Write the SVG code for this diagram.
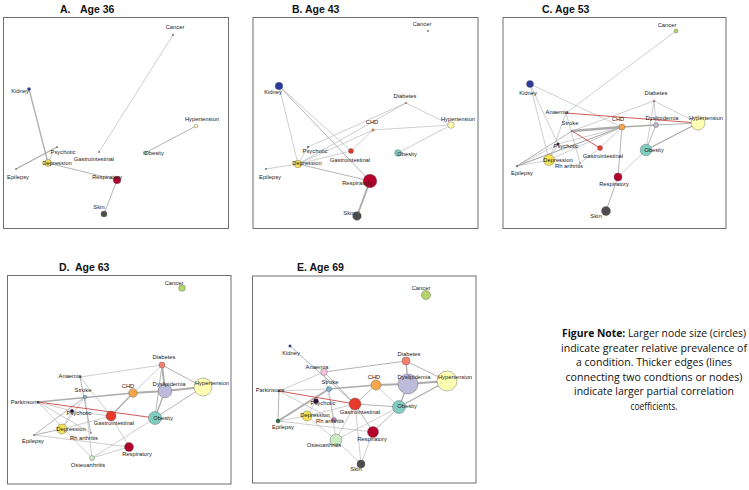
<svg xmlns="http://www.w3.org/2000/svg" width="749" height="490" viewBox="0 0 749 490">
<style>
.bg{fill:#fff}
.frame{fill:none;stroke:#6e6e6e;stroke-width:1}
.title{font-family:"Liberation Sans",Arial,sans-serif;font-weight:bold;font-size:10.5px;fill:#111}
.l{font-family:"Liberation Sans",Arial,sans-serif;font-size:5.8px;fill:#222;text-anchor:middle}
.note{font-family:"Open Sans","Liberation Sans",sans-serif;font-size:10.5px;fill:#111;text-anchor:middle}
.n{stroke:#555;stroke-width:0.4}
.e{stroke:#acacac;fill:none;stroke-linecap:round}
.w1{stroke-width:0.6}.w2{stroke-width:0.9}.w3{stroke-width:1.3}.w4{stroke-width:1.9}.w5{stroke-width:2.6}
.r{stroke:#cc4848}
.kid{fill:#2b3a9b}.can{fill:#b5d56a}.hyp{fill:#ffffb3}.obe{fill:#80cdc1}.dep{fill:#f5e356}
.res{fill:#b2002a}.ski{fill:#4d4d4d}.gas{fill:#e8392a}.chd{fill:#f9a54a}.dys{fill:#bebada}
.dia{fill:#f77f6a}.ana{fill:#f7c4da}.str{fill:#80b1d3}.psy{fill:#2d0a3a}.rha{fill:#c07fb0}
.epi{fill:#1b6b3a}.ost{fill:#ccebc5}.par{fill:#222}.tiny{fill:#777}
</style>
<rect class="bg" x="0" y="0" width="749" height="490"/>

<g id="titles">
<text class="title" x="60" y="13">A.</text><text class="title" x="80" y="13">Age 36</text>
<text class="title" x="292" y="13">B. Age 43</text>
<text class="title" x="542" y="13">C. Age 53</text>
<text class="title" x="59" y="271">D.</text><text class="title" x="75" y="271">Age 63</text>
<text class="title" x="297" y="271">E. Age 69</text>
</g>

<g id="frames">
<rect class="frame" x="3.5" y="17.5" width="225" height="211"/>
<rect class="frame" x="253" y="17.5" width="225" height="211"/>
<rect class="frame" x="503" y="17.5" width="223" height="211"/>
<rect class="frame" x="7.5" y="275.5" width="223.5" height="208.5"/>
<rect class="frame" x="252.5" y="276" width="223.5" height="207"/>
</g>

<g id="connectors">
<!-- A -->
<line class="e w3" x1="29" y1="89" x2="48" y2="163"/>
<line class="e w1" x1="173" y1="35" x2="99" y2="152"/>
<line class="e w2" x1="196" y1="126" x2="145" y2="153"/>
<line class="e w2" x1="48" y1="163" x2="117" y2="180"/>
<line class="e w2" x1="117" y1="180" x2="104" y2="214"/>
<line class="e w3" x1="16" y1="169" x2="57" y2="147"/>
<line class="e w1" x1="53" y1="152" x2="48" y2="163"/>
<!-- B -->
<line class="e w1" x1="279" y1="86" x2="298" y2="164"/>
<line class="e w1" x1="279" y1="86" x2="351" y2="151"/>
<line class="e w2" x1="279" y1="86" x2="370" y2="181"/>
<line class="e w1" x1="406" y1="103" x2="451" y2="125"/>
<line class="e w1" x1="406" y1="103" x2="308" y2="147"/>
<line class="e w1" x1="406" y1="103" x2="298" y2="164"/>
<line class="e w1" x1="373" y1="130" x2="298" y2="164"/>
<line class="e w1" x1="373" y1="130" x2="451" y2="125"/>
<line class="e w1" x1="373" y1="130" x2="351" y2="151"/>
<line class="e w1" x1="451" y1="125" x2="398" y2="153"/>
<line class="e w1" x1="298" y1="164" x2="351" y2="151"/>
<line class="e w2" x1="298" y1="164" x2="370" y2="181"/>
<line class="e w1" x1="266" y1="169" x2="298" y2="164"/>
<line class="e w4" x1="370" y1="181" x2="357" y2="216"/>
<line class="e w1" x1="308" y1="147" x2="298" y2="164"/>
<!-- C -->
<line class="e w1" x1="676" y1="31" x2="566" y2="113"/>
<line class="e w1" x1="530" y1="84" x2="549" y2="160"/>
<line class="e w1" x1="530" y1="84" x2="622" y2="127"/>
<line class="e w1" x1="530" y1="84" x2="558" y2="144"/>
<line class="e w1" x1="566" y1="113" x2="549" y2="160"/>
<line class="e w1" x1="566" y1="113" x2="580" y2="163"/>
<line class="e w1" x1="654" y1="101" x2="572" y2="131"/>
<line class="e w1" x1="654" y1="101" x2="656" y2="125"/>
<line class="e w1" x1="654" y1="101" x2="646" y2="150"/>
<line class="e w1" x1="654" y1="101" x2="698" y2="123"/>
<line class="e w5" x1="572" y1="131" x2="622" y2="127"/>
<line class="e w3" x1="517" y1="166" x2="622" y2="127"/>
<line class="e w2" x1="517" y1="166" x2="572" y2="131"/>
<line class="e w1" x1="517" y1="166" x2="549" y2="160"/>
<line class="e w1" x1="517" y1="166" x2="558" y2="144"/>
<line class="e w3" x1="622" y1="127" x2="656" y2="125"/>
<line class="e w2" x1="656" y1="125" x2="698" y2="123"/>
<line class="e w2" x1="656" y1="125" x2="646" y2="150"/>
<line class="e w3" x1="646" y1="150" x2="698" y2="123"/>
<line class="e w2" x1="622" y1="127" x2="618" y2="177"/>
<line class="e w1" x1="622" y1="127" x2="549" y2="160"/>
<line class="e w1" x1="622" y1="127" x2="558" y2="144"/>
<line class="e w1" x1="622" y1="127" x2="600" y2="148"/>
<line class="e w1" x1="646" y1="150" x2="618" y2="177"/>
<line class="e w2" x1="618" y1="177" x2="606" y2="211"/>
<line class="e w1" x1="600" y1="148" x2="580" y2="163"/>
<line class="e w1" x1="558" y1="144" x2="549" y2="160"/>
<line class="e w2 r" x1="566" y1="113" x2="698" y2="123"/>
<line class="e w2 r" x1="572" y1="131" x2="600" y2="148"/>
<!-- D -->
<line class="e w3" x1="38" y1="402" x2="133" y2="393"/>
<line class="e w4" x1="133" y1="393" x2="165" y2="391"/>
<line class="e w4" x1="165" y1="391" x2="203" y2="387"/>
<line class="e w1" x1="80" y1="377" x2="162" y2="365"/>
<line class="e w1" x1="80" y1="377" x2="111" y2="416"/>
<line class="e w2" x1="80" y1="377" x2="91" y2="433"/>
<line class="e w4" x1="162" y1="365" x2="165" y2="391"/>
<line class="e w2" x1="162" y1="365" x2="203" y2="387"/>
<line class="e w2" x1="162" y1="365" x2="155" y2="418"/>
<line class="e w1" x1="162" y1="365" x2="133" y2="393"/>
<line class="e w3" x1="165" y1="391" x2="155" y2="418"/>
<line class="e w2" x1="203" y1="387" x2="155" y2="418"/>
<line class="e w3" x1="133" y1="393" x2="111" y2="416"/>
<line class="e w1" x1="111" y1="416" x2="62" y2="429"/>
<line class="e w1" x1="111" y1="416" x2="129" y2="447"/>
<line class="e w1" x1="111" y1="416" x2="72" y2="411"/>
<line class="e w2" x1="85" y1="397" x2="34" y2="435"/>
<line class="e w1" x1="85" y1="397" x2="92" y2="458"/>
<line class="e w1" x1="85" y1="397" x2="62" y2="429"/>
<line class="e w1" x1="38" y1="402" x2="72" y2="411"/>
<line class="e w1" x1="38" y1="402" x2="91" y2="433"/>
<line class="e w1" x1="38" y1="402" x2="92" y2="458"/>
<line class="e w1" x1="72" y1="411" x2="62" y2="429"/>
<line class="e w1" x1="34" y1="435" x2="129" y2="447"/>
<line class="e w1" x1="92" y1="458" x2="155" y2="418"/>
<line class="e w1" x1="92" y1="458" x2="129" y2="447"/>
<line class="e w2" x1="62" y1="429" x2="34" y2="435"/>
<line class="e w2 r" x1="38" y1="402" x2="155" y2="418"/>
<!-- E -->
<line class="e w2" x1="290" y1="346" x2="355" y2="404"/>
<line class="e w2" x1="324" y1="372" x2="406" y2="361"/>
<line class="e w3" x1="406" y1="361" x2="408" y2="384"/>
<line class="e w2" x1="406" y1="361" x2="447" y2="381"/>
<line class="e w4" x1="408" y1="384" x2="447" y2="381"/>
<line class="e w3" x1="447" y1="381" x2="399" y2="407"/>
<line class="e w3" x1="408" y1="384" x2="399" y2="407"/>
<line class="e w4" x1="376" y1="385" x2="408" y2="384"/>
<line class="e w3" x1="329" y1="389" x2="376" y2="385"/>
<line class="e w2" x1="279" y1="391" x2="278" y2="421"/>
<line class="e w1" x1="279" y1="391" x2="324" y2="372"/>
<line class="e w1" x1="279" y1="391" x2="329" y2="389"/>
<line class="e w1" x1="279" y1="391" x2="334" y2="420"/>
<line class="e w4" x1="278" y1="421" x2="329" y2="389"/>
<line class="e w1" x1="278" y1="421" x2="307" y2="416"/>
<line class="e w1" x1="278" y1="421" x2="373" y2="432"/>
<line class="e w1" x1="316" y1="401" x2="307" y2="416"/>
<line class="e w2" x1="355" y1="404" x2="399" y2="407"/>
<line class="e w2" x1="355" y1="404" x2="376" y2="385"/>
<line class="e w2" x1="355" y1="404" x2="373" y2="432"/>
<line class="e w2" x1="399" y1="407" x2="373" y2="432"/>
<line class="e w1" x1="373" y1="432" x2="361" y2="464"/>
<line class="e w1" x1="336" y1="440" x2="361" y2="464"/>
<line class="e w1" x1="336" y1="440" x2="355" y2="404"/>
<line class="e w1" x1="336" y1="440" x2="329" y2="389"/>
<line class="e w1" x1="336" y1="440" x2="307" y2="416"/>
<line class="e w2" x1="324" y1="372" x2="355" y2="404"/>
<line class="e w1" x1="324" y1="372" x2="334" y2="420"/>
<line class="e w1" x1="355" y1="404" x2="361" y2="464"/>
<line class="e w1" x1="307" y1="416" x2="355" y2="404"/>
<line class="e w1" x1="376" y1="385" x2="399" y2="407"/>
<line class="e w1" x1="336" y1="440" x2="399" y2="407"/>
<line class="e w2 r" x1="279" y1="391" x2="355" y2="404"/>
</g>

<!-- Panel A nodes -->
<g id="a-cancer"><circle class="n tiny" cx="173" cy="35" r="0.8"/><text class="l" x="175" y="29">Cancer</text></g>
<g id="a-kidney"><circle class="n kid" cx="29" cy="89" r="1.6"/><text class="l" x="20" y="93">Kidney</text></g>
<g id="a-hypertension"><circle class="n hyp" cx="196" cy="126" r="1.8"/><text class="l" x="202" y="121">Hypertension</text></g>
<g id="a-obesity"><circle class="n obe" cx="145" cy="153" r="1.8"/><text class="l" x="154" y="155">Obesity</text></g>
<g id="a-gastro"><circle class="n gas" cx="99" cy="152" r="0.7"/><text class="l" x="94" y="161">Gastrointestinal</text></g>
<g id="a-psychotic"><circle class="n psy" cx="57" cy="147" r="0.5"/><text class="l" x="63" y="154">Psychotic</text></g>
<g id="a-depression"><circle class="n dep" cx="48" cy="163" r="3.5"/><text class="l" x="57" y="165">Depression</text></g>
<g id="a-epilepsy"><circle class="n epi" cx="16" cy="169" r="0.5"/><text class="l" x="18" y="179">Epilepsy</text></g>
<g id="a-respiratory"><circle class="n res" cx="117" cy="180" r="3.8"/><text class="l" x="107" y="179">Respiratory</text></g>
<g id="a-skin"><circle class="n ski" cx="104" cy="214" r="3"/><text class="l" x="99" y="209">Skin</text></g>

<!-- Panel B nodes -->
<g id="b-cancer"><circle class="n tiny" cx="428" cy="31" r="0.8"/><text class="l" x="422" y="26">Cancer</text></g>
<g id="b-kidney"><circle class="n kid" cx="279" cy="86" r="3.8"/><text class="l" x="273" y="94">Kidney</text></g>
<g id="b-diabetes"><circle class="n dia" cx="406" cy="103" r="0.8"/><text class="l" x="405" y="98">Diabetes</text></g>
<g id="b-chd"><circle class="n chd" cx="373" cy="130" r="1.3"/><text class="l" x="372" y="124">CHD</text></g>
<g id="b-hypertension"><circle class="n hyp" cx="451" cy="125" r="3.3"/><text class="l" x="458" y="121">Hypertension</text></g>
<g id="b-psychotic"><circle class="n psy" cx="308" cy="147" r="0.8"/><text class="l" x="315" y="153">Psychotic</text></g>
<g id="b-gastro"><circle class="n gas" cx="351" cy="151" r="2.5"/><text class="l" x="350" y="162">Gastrointestinal</text></g>
<g id="b-obesity"><circle class="n obe" cx="398" cy="153" r="3.3"/><text class="l" x="407" y="156">Obesity</text></g>
<g id="b-depression"><circle class="n dep" cx="298" cy="164" r="3.8"/><text class="l" x="307" y="165">Depression</text></g>
<g id="b-epilepsy"><circle class="n epi" cx="266" cy="169" r="0.7"/><text class="l" x="270" y="179">Epilepsy</text></g>
<g id="b-respiratory"><circle class="n res" cx="370" cy="181" r="6.8"/><text class="l" x="357" y="185">Respiratory</text></g>
<g id="b-skin"><circle class="n ski" cx="357" cy="216" r="4.3"/><text class="l" x="349" y="215">Skin</text></g>

<!-- Panel C nodes -->
<g id="c-cancer"><circle class="n can" cx="676" cy="31" r="2"/><text class="l" x="667" y="27">Cancer</text></g>
<g id="c-kidney"><circle class="n kid" cx="530" cy="84" r="3.5"/><text class="l" x="528" y="95">Kidney</text></g>
<g id="c-diabetes"><circle class="n dia" cx="654" cy="101" r="0.9"/><text class="l" x="656" y="95">Diabetes</text></g>
<g id="c-anaemia"><circle class="n ana" cx="566" cy="113" r="0.8"/><text class="l" x="557" y="114">Anaemia</text></g>
<g id="c-stroke"><circle class="n str" cx="572" cy="131" r="0.8"/><text class="l" x="570" y="125">Stroke</text></g>
<g id="c-chd"><circle class="n chd" cx="622" cy="127" r="3"/><text class="l" x="618" y="121">CHD</text></g>
<g id="c-dyslipidemia"><circle class="n dys" cx="656" cy="125" r="2.5"/><text class="l" x="662" y="120">Dyslipidemia</text></g>
<g id="c-hypertension"><circle class="n hyp" cx="698" cy="123" r="7"/><text class="l" x="706" y="120">Hypertension</text></g>
<g id="c-psychotic"><circle class="n psy" cx="558" cy="144" r="1.3"/><text class="l" x="566" y="148">Psychotic</text></g>
<g id="c-gastro"><circle class="n gas" cx="600" cy="148" r="2.5"/><text class="l" x="603" y="158">Gastrointestinal</text></g>
<g id="c-obesity"><circle class="n obe" cx="646" cy="150" r="5.8"/><text class="l" x="654" y="152">Obesity</text></g>
<g id="c-depression"><circle class="n dep" cx="549" cy="160" r="5.5"/><text class="l" x="558" y="162">Depression</text></g>
<g id="c-rharthritis"><circle class="n rha" cx="580" cy="163" r="0.6"/><text class="l" x="569" y="168">Rh arthritis</text></g>
<g id="c-epilepsy"><circle class="n epi" cx="517" cy="166" r="0.8"/><text class="l" x="522" y="175">Epilepsy</text></g>
<g id="c-respiratory"><circle class="n res" cx="618" cy="177" r="4"/><text class="l" x="614" y="186">Respiratory</text></g>
<g id="c-skin"><circle class="n ski" cx="606" cy="211" r="4.5"/><text class="l" x="596" y="218">Skin</text></g>

<!-- Panel D nodes -->
<g id="d-cancer"><circle class="n can" cx="182" cy="288" r="3.3"/><text class="l" x="174" y="285">Cancer</text></g>
<g id="d-diabetes"><circle class="n dia" cx="162" cy="365" r="3"/><text class="l" x="164" y="359">Diabetes</text></g>
<g id="d-anaemia"><circle class="n ana" cx="80" cy="377" r="0.9"/><text class="l" x="70" y="378">Anaemia</text></g>
<g id="d-chd"><circle class="n chd" cx="133" cy="393" r="4.3"/><text class="l" x="128" y="388">CHD</text></g>
<g id="d-dyslipidemia"><circle class="n dys" cx="165" cy="391" r="6.8"/><text class="l" x="169" y="386">Dyslipidemia</text></g>
<g id="d-hypertension"><circle class="n hyp" cx="203" cy="387" r="9"/><text class="l" x="212" y="385">Hypertension</text></g>
<g id="d-stroke"><circle class="n str" cx="85" cy="397" r="1.8"/><text class="l" x="83" y="392">Stroke</text></g>
<g id="d-parkinsons"><circle class="n par" cx="38" cy="402" r="0.8"/><text class="l" x="25" y="404">Parkinsons</text></g>
<g id="d-psychotic"><circle class="n psy" cx="72" cy="411" r="1.8"/><text class="l" x="79" y="415">Psychotic</text></g>
<g id="d-gastro"><circle class="n gas" cx="111" cy="416" r="5"/><text class="l" x="114" y="425">Gastrointestinal</text></g>
<g id="d-obesity"><circle class="n obe" cx="155" cy="418" r="6.5"/><text class="l" x="163" y="420">Obesity</text></g>
<g id="d-depression"><circle class="n dep" cx="62" cy="429" r="5"/><text class="l" x="71" y="431">Depression</text></g>
<g id="d-rharthritis"><circle class="n rha" cx="91" cy="433" r="0.6"/><text class="l" x="84" y="440">Rh arthritis</text></g>
<g id="d-epilepsy"><circle class="n epi" cx="34" cy="435" r="0.6"/><text class="l" x="33" y="443">Epilepsy</text></g>
<g id="d-respiratory"><circle class="n res" cx="129" cy="447" r="4.5"/><text class="l" x="137" y="456">Respiratory</text></g>
<g id="d-osteoarthritis"><circle class="n ost" cx="92" cy="458" r="2.5"/><text class="l" x="88" y="467">Osteoarthritis</text></g>

<!-- Panel E nodes -->
<g id="e-cancer"><circle class="n can" cx="426" cy="295" r="4.5"/><text class="l" x="421" y="290">Cancer</text></g>
<g id="e-kidney"><circle class="n kid" cx="290" cy="346" r="1.3"/><text class="l" x="291" y="355">Kidney</text></g>
<g id="e-diabetes"><circle class="n dia" cx="406" cy="361" r="4"/><text class="l" x="409" y="356">Diabetes</text></g>
<g id="e-anaemia"><circle class="n ana" cx="324" cy="372" r="3.3"/><text class="l" x="317" y="369">Anaemia</text></g>
<g id="e-chd"><circle class="n chd" cx="376" cy="385" r="5"/><text class="l" x="374" y="379">CHD</text></g>
<g id="e-dyslipidemia"><circle class="n dys" cx="408" cy="384" r="10"/><text class="l" x="414" y="379">Dyslipidemia</text></g>
<g id="e-hypertension"><circle class="n hyp" cx="447" cy="381" r="10"/><text class="l" x="455" y="379">Hypertension</text></g>
<g id="e-stroke"><circle class="n str" cx="329" cy="389" r="2.5"/><text class="l" x="330" y="384">Stroke</text></g>
<g id="e-parkinsons"><circle class="n par" cx="279" cy="391" r="1"/><text class="l" x="270" y="392">Parkinsons</text></g>
<g id="e-psychotic"><circle class="n psy" cx="316" cy="401" r="2.5"/><text class="l" x="323" y="405">Psychotic</text></g>
<g id="e-gastro"><circle class="n gas" cx="355" cy="404" r="6"/><text class="l" x="360" y="414">Gastrointestinal</text></g>
<g id="e-obesity"><circle class="n obe" cx="399" cy="407" r="6.5"/><text class="l" x="407" y="408">Obesity</text></g>
<g id="e-depression"><circle class="n dep" cx="307" cy="416" r="5"/><text class="l" x="315" y="417">Depression</text></g>
<g id="e-rharthritis"><circle class="n rha" cx="334" cy="420" r="2.5"/><text class="l" x="330" y="423">Rh arthritis</text></g>
<g id="e-epilepsy"><circle class="n epi" cx="278" cy="421" r="2"/><text class="l" x="283" y="429">Epilepsy</text></g>
<g id="e-respiratory"><circle class="n res" cx="373" cy="432" r="5.5"/><text class="l" x="372" y="441">Respiratory</text></g>
<g id="e-osteoarthritis"><circle class="n ost" cx="336" cy="440" r="6"/><text class="l" x="324" y="447">Osteoarthritis</text></g>
<g id="e-skin"><circle class="n ski" cx="361" cy="464" r="4"/><text class="l" x="356" y="471">Skin</text></g>

<g id="figure-note">
<text class="note" x="654" y="337" textLength="184" lengthAdjust="spacingAndGlyphs"><tspan font-weight="bold">Figure Note:</tspan>  Larger node size (circles)</text>
<text class="note" x="654" y="352" textLength="186" lengthAdjust="spacingAndGlyphs">indicate greater relative prevalence of</text>
<text class="note" x="654" y="366" textLength="156" lengthAdjust="spacingAndGlyphs">a condition. Thicker edges (lines</text>
<text class="note" x="654" y="381" textLength="177" lengthAdjust="spacingAndGlyphs">connecting two condtions or nodes)</text>
<text class="note" x="654" y="395" textLength="160" lengthAdjust="spacingAndGlyphs">indicate larger partial correlation</text>
<text class="note" x="654" y="410" textLength="47" lengthAdjust="spacingAndGlyphs">coefficients.</text>
</g>
</svg>
